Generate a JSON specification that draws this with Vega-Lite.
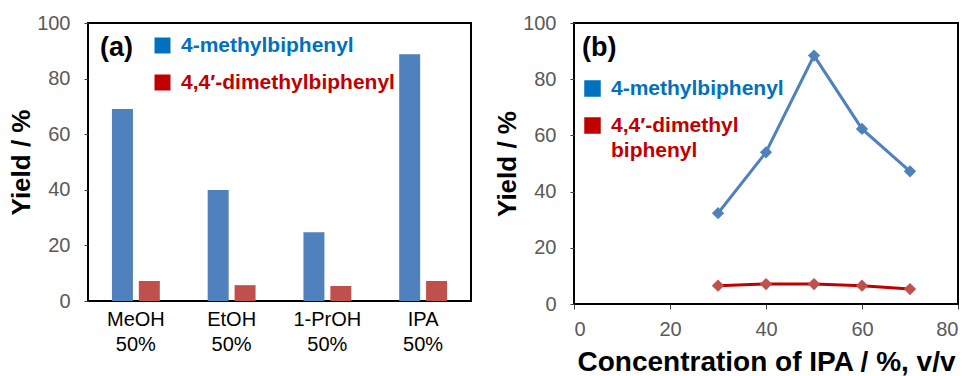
{
  "$schema": "https://vega.github.io/schema/vega-lite/v6.json",
  "padding": {"left": 7, "top": 12, "right": 0, "bottom": 0},
  "spacing": 21,
  "resolve": {"scale": {"color": "independent"}, "legend": {"color": "independent"}},
  "config": {
    "font": "Liberation Sans",
    "view": {"stroke": "#000000", "strokeWidth": 2},
    "axis": {
      "grid": false,
      "domain": false,
      "labelFont": "Liberation Sans",
      "labelFontSize": 20,
      "labelColor": "#595959",
      "tickColor": "#404040",
      "tickSize": 4,
      "tickWidth": 1,
      "titleFont": "Liberation Sans",
      "titleFontWeight": "bold",
      "titleColor": "#000000"
    },
    "legend": {"padding": 0}
  },
  "hconcat": [
    {
      "width": 383,
      "height": 278,
      "data": {
        "values": [
          {"solvent": "MeOH 50%", "compound": "4-methylbiphenyl", "yield": 69.1},
          {"solvent": "MeOH 50%", "compound": "4,4′-dimethylbiphenyl", "yield": 7.2},
          {"solvent": "EtOH 50%", "compound": "4-methylbiphenyl", "yield": 39.9},
          {"solvent": "EtOH 50%", "compound": "4,4′-dimethylbiphenyl", "yield": 5.7},
          {"solvent": "1-PrOH 50%", "compound": "4-methylbiphenyl", "yield": 24.7},
          {"solvent": "1-PrOH 50%", "compound": "4,4′-dimethylbiphenyl", "yield": 5.4},
          {"solvent": "IPA 50%", "compound": "4-methylbiphenyl", "yield": 88.8},
          {"solvent": "IPA 50%", "compound": "4,4′-dimethylbiphenyl", "yield": 7.2}
        ]
      },
      "encoding": {
        "x": {
          "field": "solvent",
          "type": "nominal",
          "sort": null,
          "scale": {"paddingInner": 0.5, "paddingOuter": 0.25},
          "axis": {
            "title": null,
            "labelAngle": 0,
            "labelColor": "#000000",
            "ticks": false,
            "labelPadding": 8,
            "labelExpr": "split(datum.label, ' ')",
            "labelLineHeight": 25,
            "labelBaseline": "top"
          }
        },
        "y": {
          "field": "yield",
          "type": "quantitative",
          "scale": {"domain": [0, 100], "nice": false},
          "axis": {"values": [0, 20, 40, 60, 80, 100], "title": "Yield / %", "titleFontSize": 26, "labelPadding": 14, "titlePadding": 2}
        }
      },
      "layer": [
        {
          "mark": {"type": "bar"},
          "encoding": {
            "xOffset": {
              "field": "compound",
              "type": "nominal",
              "sort": null,
              "scale": {"paddingInner": 0.22, "domain": ["4-methylbiphenyl", "4,4′-dimethylbiphenyl"]}
            },
            "color": {
              "field": "compound",
              "type": "nominal",
              "scale": {"domain": ["4-methylbiphenyl", "4,4′-dimethylbiphenyl"], "range": ["#4F81BD", "#C0504D"]},
              "legend": null
            }
          }
        },
        {
          "mark": {"type": "line", "strokeOpacity": 0, "strokeWidth": 1},
          "encoding": {
            "color": {
              "field": "compound",
              "type": "nominal",
              "scale": {"domain": ["4-methylbiphenyl", "4,4′-dimethylbiphenyl"], "range": ["#0070C0", "#C00000"]},
              "legend": {
                "orient": "none",
                "legendX": 12,
                "legendY": 12,
                "title": "(a)",
                "titleOrient": "left",
                "titleAnchor": "start",
                "titleFontSize": 27,
                "titleFontWeight": "bold",
                "titleColor": "#000000",
                "titlePadding": 19,
                "titleBaseline": "top",
                "symbolType": "square",
                "symbolSize": 256,
                "symbolStrokeWidth": 0,
                "labelFontSize": 21,
                "labelFontWeight": "bold",
                "labelLimit": 400,
                "labelOffset": 8,
                "rowPadding": 15,
                "labelExpr": "datum.value == '4-methylbiphenyl' ? '\u00a04-methylbiphenyl' : datum.value",
                "encode": {
                  "symbols": {"update": {"fill": {"signal": "datum.value == '4-methylbiphenyl' ? '#0070C0' : '#C00000'"}, "fillOpacity": {"value": 1}, "opacity": {"value": 1}, "strokeWidth": {"value": 0}}},
                  "labels": {"update": {"fill": {"signal": "datum.value == '4-methylbiphenyl' ? '#0070C0' : '#C00000'"}, "opacity": {"value": 1}}}
                }
              }
            }
          }
        }
      ],
      "resolve": {"scale": {"color": "independent"}, "legend": {"color": "independent"}}
    },
    {
      "width": 384,
      "height": 281,
      "data": {
        "values": [
          {"ipa": 30, "compound": "4-methylbiphenyl", "yield": 32.3},
          {"ipa": 40, "compound": "4-methylbiphenyl", "yield": 54.0},
          {"ipa": 50, "compound": "4-methylbiphenyl", "yield": 88.4},
          {"ipa": 60, "compound": "4-methylbiphenyl", "yield": 62.3},
          {"ipa": 70, "compound": "4-methylbiphenyl", "yield": 47.2},
          {"ipa": 30, "compound": "4,4′-dimethylbiphenyl", "yield": 6.5},
          {"ipa": 40, "compound": "4,4′-dimethylbiphenyl", "yield": 7.1},
          {"ipa": 50, "compound": "4,4′-dimethylbiphenyl", "yield": 7.1},
          {"ipa": 60, "compound": "4,4′-dimethylbiphenyl", "yield": 6.5},
          {"ipa": 70, "compound": "4,4′-dimethylbiphenyl", "yield": 5.3}
        ]
      },
      "encoding": {
        "x": {
          "field": "ipa",
          "type": "quantitative",
          "scale": {"domain": [0, 80], "nice": false},
          "axis": {"values": [0, 20, 40, 60, 80], "title": "Concentration of IPA / %, v/v", "titleFontSize": 28, "titlePadding": 9, "labelPadding": 10, "tickSize": 5}
        },
        "y": {
          "field": "yield",
          "type": "quantitative",
          "scale": {"domain": [0, 100], "nice": false},
          "axis": {"values": [0, 20, 40, 60, 80, 100], "title": "Yield / %", "titleFontSize": 26, "labelPadding": 14, "titlePadding": 2}
        }
      },
      "layer": [
        {
          "mark": {"type": "line", "strokeWidth": 3},
          "encoding": {
            "color": {
              "field": "compound",
              "type": "nominal",
              "scale": {"domain": ["4-methylbiphenyl", "4,4′-dimethylbiphenyl"], "range": ["#4F81BD", "#C00000"]},
              "legend": {
                "orient": "none",
                "legendX": 8,
                "legendY": 12,
                "title": "(b)",
                "titleOrient": "top",
                "titleAnchor": "start",
                "titleFontSize": 27,
                "titleFontWeight": "bold",
                "titleColor": "#000000",
                "titlePadding": 16,
                "symbolType": "square",
                "symbolSize": 272,
                "symbolStrokeWidth": 0,
                "labelFontSize": 21,
                "labelFontWeight": "bold",
                "labelLimit": 400,
                "labelOffset": 8,
                "rowPadding": 15,
                "labelExpr": "datum.value == '4,4′-dimethylbiphenyl' ? ['4,4′-dimethyl', 'biphenyl'] : '\u00a04-methylbiphenyl'",
                "encode": {
                  "symbols": {"update": {"fill": {"signal": "datum.value == '4-methylbiphenyl' ? '#0070C0' : '#C00000'"}, "fillOpacity": {"value": 1}, "strokeWidth": {"value": 0}, "opacity": {"value": 1}}},
                  "labels": {"update": {"fill": {"signal": "datum.value == '4-methylbiphenyl' ? '#0070C0' : '#C00000'"}, "lineHeight": {"value": 25}}}
                }
              }
            }
          }
        },
        {
          "mark": {"type": "point", "shape": "diamond", "filled": true, "size": 150, "opacity": 1},
          "encoding": {
            "color": {
              "field": "compound",
              "type": "nominal",
              "scale": {"domain": ["4-methylbiphenyl", "4,4′-dimethylbiphenyl"], "range": ["#4F81BD", "#C0504D"]},
              "legend": null
            }
          }
        }
      ],
      "resolve": {"scale": {"color": "independent"}, "legend": {"color": "independent"}}
    }
  ]
}
